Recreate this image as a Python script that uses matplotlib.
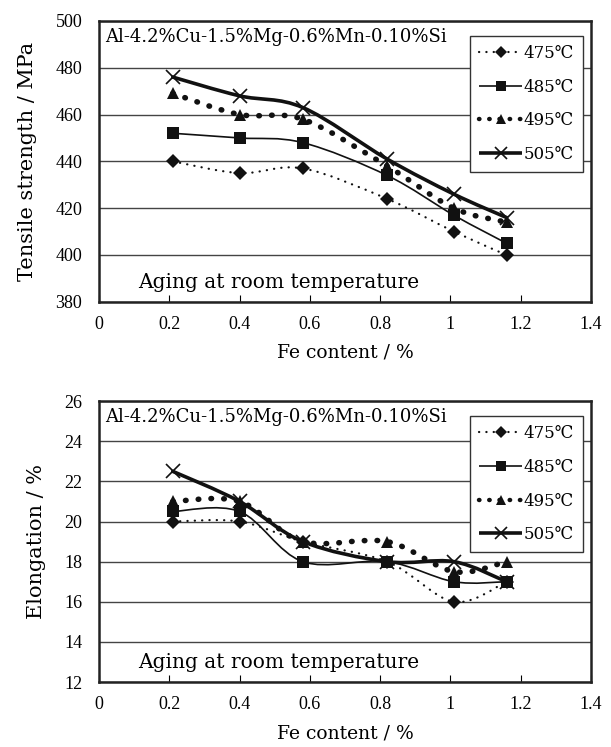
import matplotlib
matplotlib.use("Agg")
import matplotlib.pyplot as plt
from matplotlib.path import Path
from matplotlib.patches import PathPatch
from matplotlib.lines import Line2D

plt.rcParams['font.family'] = ['DejaVu Serif', 'DejaVu Sans', 'Noto Sans CJK JP']

fe = [0.21, 0.40, 0.58, 0.82, 1.01, 1.16]
temps = ['475℃', '485℃', '495℃', '505℃']

ts_475 = [440, 435, 437, 424, 410, 400]
ts_485 = [452, 450, 448, 434, 417, 405]
ts_495 = [469, 460, 458, 438, 420, 414]
ts_505 = [476, 468, 463, 441, 426, 416]

el_475 = [20.0, 20.0, 19.0, 18.0, 16.0, 17.0]
el_485 = [20.5, 20.5, 18.0, 18.0, 17.0, 17.0]
el_495 = [21.0, 21.0, 19.0, 19.0, 17.5, 18.0]
el_505 = [22.5, 21.0, 19.0, 18.0, 18.0, 17.0]

alloy = 'Al-4.2%Cu-1.5%Mg-0.6%Mn-0.10%Si'
note = 'Aging at room temperature'

styles = [
    dict(marker='D', ms=7, lw=1.6, ls=(0, (0.1, 3.2)), mew=0),
    dict(marker='s', ms=8, lw=1.2, ls='-', mew=0),
    dict(marker='^', ms=9, lw=4.0, ls=(0, (0.1, 2.2)), mew=0),
    dict(marker='x', ms=10, lw=2.6, ls='-', mew=1.2),
]

tick_font = dict(family='Liberation Serif', size=13)


def smooth_path(x, y):
    # excel-like smoothed line as cubic bezier
    pts = list(zip(x, y))
    verts = [pts[0]]
    codes = [Path.MOVETO]
    n = len(pts)
    for i in range(n - 1):
        p0 = pts[i - 1] if i > 0 else pts[i]
        p1 = pts[i]
        p2 = pts[i + 1]
        p3 = pts[i + 2] if i + 2 < n else pts[i + 1]
        c1 = (p1[0] + (p2[0] - p0[0]) / 6, p1[1] + (p2[1] - p0[1]) / 6)
        c2 = (p2[0] - (p3[0] - p1[0]) / 6, p2[1] - (p3[1] - p1[1]) / 6)
        verts += [c1, c2, p2]
        codes += [Path.CURVE4] * 3
    return Path(verts, codes)


def panel(ax, series, ylim, yticks, ylabel):
    for s, st in zip(series, styles):
        patch = PathPatch(smooth_path(fe, s), fill=False, edgecolor='#111111',
                          lw=st['lw'], linestyle=st['ls'], capstyle='round', zorder=3)
        ax.add_patch(patch)
        ax.plot(fe, s, ls='none', marker=st['marker'], ms=st['ms'], color='#111111',
                mew=st['mew'], zorder=4)
    ax.set_xlim(0, 1.4)
    ax.set_ylim(*ylim)
    ax.set_yticks(yticks)
    ax.set_xticks([0, 0.2, 0.4, 0.6, 0.8, 1.0, 1.2, 1.4])
    ax.set_xticklabels(['0', '0.2', '0.4', '0.6', '0.8', '1', '1.2', '1.4'])
    for lab in ax.get_xticklabels() + ax.get_yticklabels():
        lab.set_fontfamily(tick_font['family'])
        lab.set_fontsize(tick_font['size'])
    ax.yaxis.grid(True, color='#444444', lw=1.0)
    ax.set_axisbelow(True)
    ax.tick_params(axis='x', direction='in', length=5, pad=10)
    ax.tick_params(axis='y', length=0, pad=12)
    for sp in ax.spines.values():
        sp.set_linewidth(1.8)
        sp.set_color('#222222')
    ax.set_xlabel('Fe content / %', fontsize=13.5, labelpad=8)
    ax.set_ylabel(ylabel, fontsize=15, labelpad=13)
    ax.text(0.012, 0.975, alloy, transform=ax.transAxes, ha='left', va='top',
            fontsize=13, zorder=5)
    ax.text(0.08, 0.035, note, transform=ax.transAxes, ha='left', va='bottom',
            fontsize=14.5, zorder=5)
    handles = []
    for t, st in zip(temps, styles):
        handles.append(Line2D([], [], color='#111111', lw=min(st['lw'], 3.2), ls=st['ls'],
                              marker=st['marker'], ms=st['ms'] * 0.85, mew=st['mew'],
                              dash_capstyle='round', solid_capstyle='butt'))
    leg = ax.legend(handles, temps, loc='upper right', bbox_to_anchor=(0.985, 0.947),
                    fontsize=12, frameon=True, fancybox=False, framealpha=1,
                    edgecolor='#333333', handlelength=2.6, handletextpad=0.1,
                    labelspacing=1.0, borderpad=0.55, borderaxespad=0)
    leg.get_frame().set_linewidth(1.0)
    leg.set_zorder(6)


fig = plt.figure(figsize=(6.11, 7.47), dpi=100)
ax1 = fig.add_axes([0.162, 0.596, 0.805, 0.376])
ax2 = fig.add_axes([0.162, 0.087, 0.805, 0.376])

panel(ax1, [ts_475, ts_485, ts_495, ts_505], (380, 500), range(380, 501, 20),
      'Tensile strength / MPa')
panel(ax2, [el_475, el_485, el_495, el_505], (12, 26), range(12, 27, 2),
      'Elongation / %')

fig.savefig('out.png', dpi=100)
